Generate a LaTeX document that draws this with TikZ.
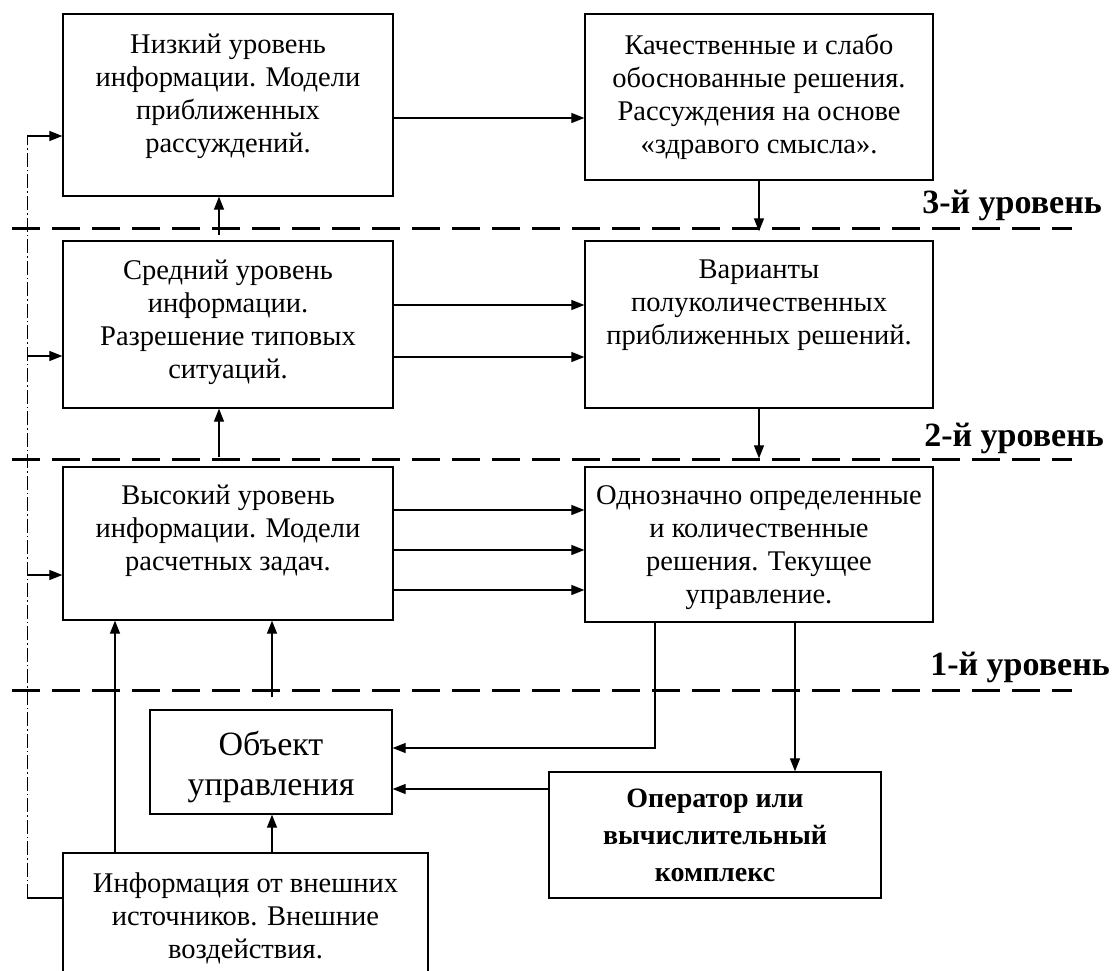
\documentclass[tikz,border=0pt]{standalone}
\usepackage{fontspec}
\setmainfont{Liberation Serif}
\usetikzlibrary{arrows.meta,calc}
\begin{document}
\begin{tikzpicture}[x=1pt,y=-1pt,
  box/.style={draw,line width=1.3pt,rectangle,inner sep=0pt,fill=white},
  txt/.style={align=center,inner sep=0pt,font=\fontsize{28.5}{33}\selectfont,anchor=north},
  arr/.style={line width=1.2pt,-{Triangle[length=13pt,width=10pt]}},
  ln/.style={line width=1.2pt},
  levelline/.style={line width=3pt,dash pattern=on 28pt off 12pt},
  dd/.style={line width=0.8pt,dash pattern=on 14pt off 3pt on 1.5pt off 3pt},
  lvl/.style={font=\bfseries\fontsize{34}{38}\selectfont,anchor=base east,inner sep=0pt}]

\useasboundingbox (0,0) rectangle (1114,971);

% level separators
\coordinate (s3a) at (12,228); \coordinate (s3b) at (1072,228);
\coordinate (s2a) at (12,459); \coordinate (s2b) at (1072,459);
\coordinate (s1a) at (12,690); \coordinate (s1b) at (1072,690);
\draw[levelline] (s3a) -- (s3b);
\draw[levelline] (s2a) -- (s2b);
\draw[levelline] (s1a) -- (s1b);
\node[lvl] (L3) at (1102,213) {3-й уровень};
\node[lvl] (L2) at (1104,446) {2-й уровень};
\node[lvl] (L1) at (1110,675) {1-й уровень};

% boxes
\node[box,minimum width=330pt,minimum height=182pt] (A) at (228,105) {};
\node[txt] (At) at (228,33.5) {Низкий уровень\\информации. Модели\\приближенных\\рассуждений.};

\node[box,minimum width=348pt,minimum height=166pt] (B) at (759,97) {};
\node[txt] (Bt) at (759,33.5) {Качественные и слабо\\обоснованные решения.\\Рассуждения на основе\\«здравого смысла».};

\node[box,minimum width=330pt,minimum height=167pt] (C) at (228,324.5) {};
\node[txt] (Ct) at (228,260) {Средний уровень\\информации.\\Разрешение типовых\\ситуаций.};

\node[box,minimum width=348pt,minimum height=167pt] (D) at (759,324.5) {};
\node[txt] (Dt) at (759,260) {Варианты\\полуколичественных\\приближенных решений.};

\node[box,minimum width=330pt,minimum height=153pt] (E) at (228,543.5) {};
\node[txt] (Et) at (228,485) {Высокий уровень\\информации. Модели\\расчетных задач.};

\node[box,minimum width=348pt,minimum height=155pt] (F) at (759,544.5) {};
\node[txt] (Ft) at (759,485) {Однозначно определенные\\и количественные\\решения. Текущее\\управление.};

\node[box,minimum width=242pt,minimum height=104pt] (G) at (271,762) {};
\node[txt,font=\fontsize{34}{40}\selectfont] (Gt) at (271,731) {Объект\\управления};

\node[box,minimum width=332pt,minimum height=126pt] (H) at (715,835) {};
\node[txt,font=\bfseries\fontsize{28}{37}\selectfont] (Ht) at (715,789) {Оператор или\\вычислительный\\комплекс};

\node[box,minimum width=365pt,minimum height=140pt] (I) at (245.5,923) {};
\node[txt] (It) at (245.5,872.5) {Информация от внешних\\источников. Внешние\\воздействия.};

% helper levels
\coordinate (yAB) at (0,118);
\coordinate (yCD1) at (0,305);
\coordinate (yCD2) at (0,357);
\coordinate (yEF1) at (0,510);
\coordinate (yEF2) at (0,550);
\coordinate (yEF3) at (0,590);
\coordinate (yFG) at (0,748);
\coordinate (yHG) at (0,789);
\coordinate (x219) at (219,0);
\coordinate (x759) at (759,0);
\coordinate (x655) at (655,0);
\coordinate (x795) at (795,0);
\coordinate (x272) at (272,0);
\coordinate (x115) at (115,0);

% connectors
\draw[arr] (A.east |- yAB) -- (B.west |- yAB);
\draw[arr,shorten >=9pt] (B.south -| x759) -- (D.north -| x759);
\draw[arr,shorten <=5pt] (C.north -| x219) -- (A.south -| x219);
\draw[arr] (C.east |- yCD1) -- (D.west |- yCD1);
\draw[arr] (C.east |- yCD2) -- (D.west |- yCD2);
\draw[arr,shorten >=8pt] (D.south -| x759) -- (F.north -| x759);
\draw[arr,shorten <=9pt] (E.north -| x219) -- (C.south -| x219);
\draw[arr] (E.east |- yEF1) -- (F.west |- yEF1);
\draw[arr] (E.east |- yEF2) -- (F.west |- yEF2);
\draw[arr] (E.east |- yEF3) -- (F.west |- yEF3);
\coordinate (fg) at (655,748);
\draw[arr] (F.south -| x655) -- (fg) -- (G.east |- yFG);
\draw[arr] (F.south -| x795) -- (H.north -| x795);
\draw[arr] (H.west |- yHG) -- (G.east |- yHG);
\draw[arr] (I.north -| x272) -- (G.south -| x272);
\draw[arr] (I.north -| x115) -- (E.south -| x115);
\draw[arr,shorten <=12pt] (G.north -| x272) -- (E.south -| x272);

% dash-dot feedback from external information
\coordinate (dd0) at (27,898);
\coordinate (dd1) at (27,136);
\coordinate (dd2) at (27,356);
\coordinate (dd3) at (27,575);
\draw[ln] (I.west |- dd0) -- (dd0);
\draw[dd] (dd0) -- (dd1);
\draw[arr] (dd1) -- (A.west |- dd1);
\draw[arr] (dd2) -- (C.west |- dd2);
\draw[arr] (dd3) -- (E.west |- dd3);
\end{tikzpicture}
\end{document}
